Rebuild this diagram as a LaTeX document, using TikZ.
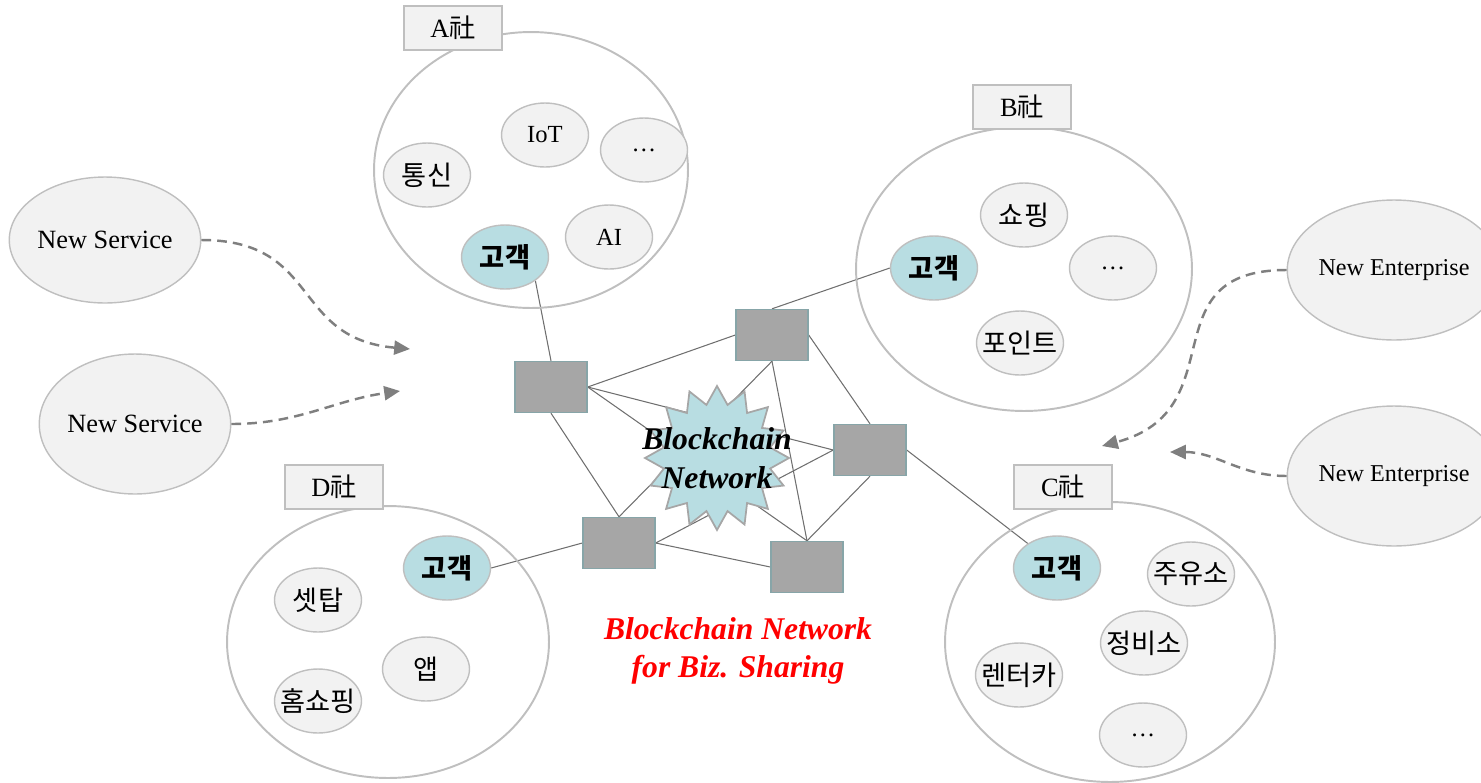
\documentclass[tikz,border=0pt]{standalone}
\usepackage{fontspec}
\setmainfont{Liberation Serif}
\newfontfamily\krfont{Noto Sans CJK KR}
\usetikzlibrary{positioning}
\usetikzlibrary{shapes.geometric, arrows.meta, backgrounds}

\definecolor{fillgray}{HTML}{F2F2F2}
\definecolor{linegray}{HTML}{BFBFBF}
\definecolor{boxgray}{HTML}{A6A6A6}
\definecolor{boxedge}{HTML}{87A5A8}
\definecolor{custblue}{HTML}{B8DDE2}
\definecolor{arrowgray}{HTML}{7F7F7F}
\definecolor{wiregray}{HTML}{6F6F6F}

\newcommand{\corpmark}{{\krfont 社}}

\tikzset{
    org/.style={draw=linegray, line width=1.1pt, ellipse, inner sep=0pt},
    item/.style={draw=linegray, line width=0.8pt, fill=fillgray, ellipse, inner sep=0pt,
        minimum width=1.74cm, minimum height=1.28cm, font=\fontsize{14}{16}\selectfont},
    hangul/.style={inner xsep=-4pt, font=\krfont\fontsize{15.5}{17}\selectfont},
    cust/.style={item, fill=custblue, font=\krfont\bfseries\fontsize{15.5}{17}\selectfont},
    tag/.style={draw=linegray, line width=1.6pt, fill=fillgray, rectangle, inner sep=0pt,
        minimum width=1.96cm, minimum height=0.88cm, font=\fontsize{15}{17}\selectfont},
    peer/.style={draw=boxedge, line width=0.8pt, fill=boxgray, inner sep=0pt,
        minimum width=1.44cm, minimum height=1.02cm},
    newbie/.style={draw=linegray, line width=0.8pt, fill=fillgray, ellipse, inner sep=0pt,
        minimum width=3.8cm, minimum height=2.8cm},
    wire/.style={draw=wiregray, line width=0.6pt},
    flow/.style={draw=arrowgray, line width=1.4pt, dash pattern=on 5.5pt off 3.5pt,
        -{Triangle[length=9pt, width=8pt]}}
}

\begin{document}
\begin{tikzpicture}[x=0.02cm, y=-0.02cm]
    \useasboundingbox (0,0) rectangle (1481,782);

    % companies
    \node (Aorg) [org, minimum width=6.28cm, minimum height=5.52cm] at (531,170) {};
    \node (Borg) [org, minimum width=6.72cm, minimum height=5.68cm] at (1024,269) {};
    \node (Corg) [org, minimum width=6.60cm, minimum height=5.60cm] at (1110,642) {};
    \node (Dorg) [org, minimum width=6.44cm, minimum height=5.44cm] at (388,642) {};

    \node (Atag) [tag] at (453,28) {A\corpmark};
    \node (Btag) [tag] at (1022,107) {B\corpmark};
    \node (Ctag) [tag] at (1063,487) {C\corpmark};
    \node (Dtag) [tag] at (334,487) {D\corpmark};

    % A
    \node (Atel) [item, hangul] at (427,175) {통신};
    \node (Aiot) [item] at (545,135) {IoT};
    \node (Amore) [item] at (644,150) {…};
    \node (Aai) [item] at (609,237) {AI};
    \node (Acust) [cust] at (505,257) {고객};
    % B
    \node (Bshop) [item, hangul] at (1024,215) {쇼핑};
    \node (Bmore) [item] at (1113,268) {…};
    \node (Bpoint) [item, hangul] at (1020,343) {포인트};
    \node (Bcust) [cust] at (934,268) {고객};
    % C
    \node (Ccust) [cust] at (1057,568) {고객};
    \node (Cgas) [item, hangul] at (1191,574) {주유소};
    \node (Crepair) [item, hangul] at (1144,643) {정비소};
    \node (Crent) [item, hangul] at (1019,675) {렌터카};
    \node (Cmore) [item] at (1143,735) {…};
    % D
    \node (Dcust) [cust] at (447,568) {고객};
    \node (Dstb) [item, hangul] at (318,600) {셋탑};
    \node (Dapp) [item, hangul] at (426,669) {앱};
    \node (Dhome) [item, hangul] at (318,701) {홈쇼핑};

    % newcomers
    \node (NS1) [newbie, minimum height=2.52cm, font=\fontsize{15}{17}\selectfont] at (105,240) {New Service};
    \node (NS2) [newbie, font=\fontsize{15}{17}\selectfont] at (135,424) {New Service};
    \node (NE1) [newbie, font=\fontsize{13.75}{16}\selectfont] at (1394,270) {New Enterprise};
    \node (NE2) [newbie, font=\fontsize{13.75}{16}\selectfont] at (1394,476) {New Enterprise};

    % blockchain network
    \node (hub) [star, star points=16, star point ratio=1.33, minimum size=2.88cm, inner sep=0pt,
        draw=boxgray, line width=1pt, fill=custblue] at (717,458) {};
    \node (hubtext) [font=\bfseries\itshape\fontsize{18}{22}\selectfont, align=center] at (hub.center) {Blockchain\\Network};

    \node (P1) [peer] at (551,387) {};
    \node (P2) [peer] at (772,335) {};
    \node (P3) [peer] at (870,450) {};
    \node (P4) [peer] at (619,543) {};
    \node (P5) [peer] at (807,567) {};

    \begin{scope}[on background layer]
        \draw[wire] (P1.east) -- (P2.west);
        \draw[wire] (P1.east) -- (P3.west);
        \draw[wire] (P1.east) -- (P5.north);
        \draw[wire] (P1.south) -- (P4.north);
        \draw[wire] (P2.south) -- (P4.north);
        \draw[wire] (P2.south) -- (P5.north);
        \draw[wire] (P2.east) -- (P3.north);
        \draw[wire] (P3.west) -- (P4.east);
        \draw[wire] (P3.south) -- (P5.north);
        \draw[wire] (P4.east) -- (P5.west);
        \draw[wire] (P1.north) -- (Acust.-38);
        \draw[wire] (P2.north) -- (Bcust.west);
        \draw[wire] (P3.east) -- (Ccust.140);
        \draw[wire] (P4.west) -- (Dcust.east);
    \end{scope}

    \node (caption) [font=\bfseries\itshape\fontsize{18}{21.6}\selectfont, text=red, align=center] at (738,651) {Blockchain Network\\for Biz. Sharing};

    % joining arrows
    \coordinate (nsin1) at (410,349);
    \coordinate (nsin2) at (400,391);
    \coordinate (nein1) at (1102,446);
    \coordinate (nein2) at (1170,452);
    \draw[flow] (NS1.east) to[out=0, in=175, looseness=1.3] (nsin1);
    \draw[flow] (NS2.east) to[out=0, in=188] (nsin2);
    \draw[flow] (NE1.west) to[out=180, in=15, looseness=1.4] (nein1);
    \draw[flow] (NE2.west) to[out=180, in=0] (nein2);

\end{tikzpicture}
\end{document}
